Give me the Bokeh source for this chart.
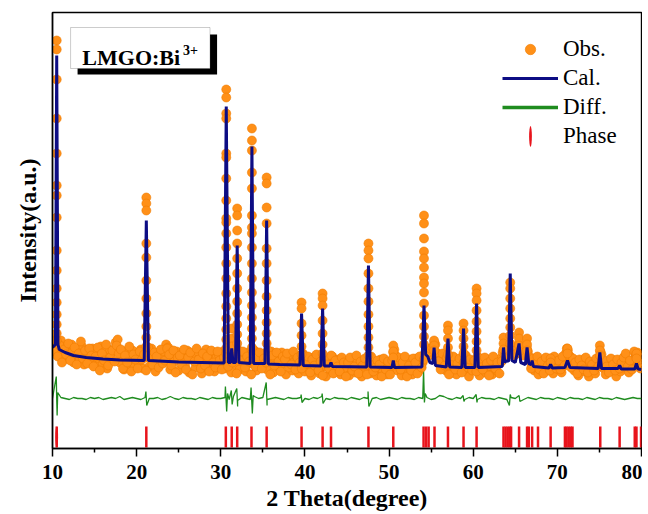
import numpy as np
from bokeh.plotting import figure
from bokeh.models import Range1d, FixedTicker, Legend, LegendItem, BoxAnnotation, Label
from bokeh.embed import file_html
from bokeh.resources import INLINE

# ---------------- data (2theta in degrees, intensity in a.u.) ----------------
# observed background scan, 2theta = 10.00 ... 80.00 step 0.25
obs_step = 0.25
obs_bg_int = [
    106, 102, 98, 94, 108, 88, 101, 95, 90, 104, 86, 99, 93, 89, 102, 84, 97, 91, 87, 100,
    83, 96, 90, 102, 85, 94, 80, 99, 88, 97, 106, 109, 86, 92, 79, 97, 84, 90, 98, 81,
    93, 85, 99, 80, 91, 96, 82, 100, 88, 77, 94, 86, 90, 97, 104, 101, 79, 92, 87, 97,
    78, 90, 95, 83, 98, 76, 89, 93, 81, 97, 86, 75, 92, 99, 84, 88, 96, 77, 91, 94,
    86, 97, 80, 93, 88, 76, 95, 84, 99, 79, 90, 94, 77, 96, 85, 89, 98, 78, 92, 87,
    83, 95, 79, 91, 97, 76, 88, 93, 80, 96, 85, 74, 90, 94, 78, 87, 92, 75, 89, 95,
    77, 88, 84, 73, 91, 80, 86, 75, 90, 82, 72, 87, 79, 92, 76, 85, 89, 74, 83, 88,
    79, 73, 90, 84, 76, 88, 81, 72, 86, 78, 91, 75, 83, 87, 73, 80, 89, 77, 84, 74,
    86, 79, 96, 93, 78, 85, 73, 88, 81, 76, 89, 74, 84, 90, 77, 82, 86, 95, 99, 93,
    97, 100, 104, 90, 84, 92, 88, 78, 86, 75, 83, 89, 74, 87, 80, 91, 77, 84, 72, 88,
    79, 85, 92, 73, 86, 80, 76, 89, 82, 74, 87, 78, 84, 90, 96, 93, 100, 98, 95, 97,
    99, 96, 102, 98, 100, 94, 97, 88, 83, 78, 86, 74, 81, 88, 77, 85, 90, 79, 75, 84,
    80, 86, 76, 89, 95, 98, 92, 84, 78, 87, 73, 82, 88, 77, 85, 72, 81, 86, 75, 83,
    90, 94, 80, 74, 86, 79, 83, 88, 72, 85, 77, 81, 92, 89, 76, 84, 88, 95, 96, 91,
    82,
]
# observed background scan, interleaved points 2theta = 10.125 ... 79.875 step 0.25
obs_bg2_int = [
    97, 110, 92, 103, 86, 99, 94, 105, 88, 96, 101, 84, 95, 107, 90, 98, 85, 100, 93, 82,
    92, 101, 78, 95, 88, 104, 83, 91, 98, 87, 103, 95, 99, 80, 93, 86, 102, 77, 94, 89,
    80, 97, 89, 94, 78, 101, 90, 84, 96, 92, 81, 99, 85, 88, 100, 94, 83, 98, 76, 91,
    93, 84, 99, 79, 91, 96, 74, 87, 100, 89, 80, 95, 83, 92, 77, 98, 86, 81, 97, 88,
    79, 91, 95, 82, 99, 86, 90, 75, 93, 88, 97, 81, 92, 87, 74, 95, 82, 90, 96, 80,
    90, 86, 98, 74, 93, 83, 96, 87, 77, 92, 89, 95, 81, 84, 97, 79, 91, 86, 80, 93,
    85, 92, 76, 89, 83, 94, 78, 87, 73, 91, 84, 80, 93, 75, 88, 82, 77, 91, 86, 72,
    86, 91, 78, 82, 93, 75, 87, 83, 90, 74, 85, 92, 77, 81, 88, 84, 72, 90, 79, 87,
    74, 88, 99, 84, 91, 79, 86, 92, 72, 83, 78, 90, 86, 75, 92, 81, 89, 98, 96, 100,
    101, 106, 96, 87, 79, 95, 83, 91, 74, 88, 92, 79, 85, 90, 76, 86, 93, 81, 89, 78,
    88, 77, 83, 90, 79, 91, 85, 73, 88, 92, 80, 86, 75, 87, 99, 102, 94, 97, 101, 93,
    95, 104, 99, 93, 103, 101, 92, 80, 90, 85, 92, 79, 87, 75, 91, 83, 78, 87, 92, 80,
    88, 79, 92, 83, 100, 93, 81, 90, 86, 75, 89, 83, 79, 91, 76, 87, 84, 78, 90, 82,
    97, 85, 88, 82, 76, 90, 84, 78, 89, 80, 86, 91, 95, 82, 88, 79, 97, 93, 86, 80,
]

# observed points on the Bragg peaks (columns of points at each reflection)
obs_peak_pos = [10.5, 21.15, 30.65, 31.3, 31.95, 33.7, 35.45, 39.6, 42.1, 47.55,
                50.5, 54.15, 55.35, 57.0, 58.85, 60.4, 63.6, 64.4, 65.45, 66.4,
                69.2, 71.2, 75.05, 79.4]
obs_peak_cols = [
    [408, 399, 369, 330, 295, 263, 253, 231, 198, 178, 160, 146, 134, 124, 115, 108],
    [251, 245, 238, 205, 191, 168, 150, 135, 122, 111, 102],
    [359, 351, 335, 330, 295, 291, 270, 248, 230, 226, 215, 201, 185, 170, 155, 142, 130, 119, 109, 100],
    [120, 110, 102],
    [240, 233, 218, 205, 190, 175, 160, 147, 135, 124, 114, 105],
    [320, 308, 298, 276, 260, 233, 221, 215, 201, 185, 170, 156, 143, 131, 120, 110, 101],
    [271, 265, 241, 225, 200, 185, 168, 152, 138, 126, 115, 105],
    [146, 140, 125, 113, 102, 94],
    [155, 150, 143, 128, 115, 104, 95],
    [205, 198, 190, 175, 160, 147, 134, 122, 111, 101, 93],
    [103, 97, 91],
    [233, 225, 210, 197, 190, 181, 171, 165, 156, 145, 133, 122, 112, 104],
    [108, 103, 98],
    [123, 118, 110, 101, 94],
    [125, 118, 110, 102, 95],
    [160, 155, 148, 138, 127, 117, 107, 98],
    [111, 105, 99],
    [166, 160, 150, 140, 130, 121, 113, 105],
    [116, 110, 103, 97],
    [110, 104, 98],
    [90, 86],
    [100, 95],
    [103, 98, 93],
    [95, 90],
]

# calculated profile
cal_tth = [10.0, 10.35, 10.5, 10.65, 10.8, 11.5, 12.5, 14.0, 16.0, 18.0, 20.9, 21.15, 21.4,
           25.0, 30.4, 30.65, 30.9, 31.15, 31.3, 31.45, 31.75, 31.95, 32.15, 33.5, 33.7,
           33.9, 35.25, 35.45, 35.65, 37.0, 39.4, 39.6, 39.8, 41.9, 42.1, 42.3, 42.95,
           43.1, 43.25, 47.35, 47.55, 47.75, 50.35, 50.5, 50.65, 53.9, 54.15, 54.35, 54.6,
           54.85, 55.2, 55.35, 55.5, 56.8, 57.0, 57.2, 58.65, 58.85, 59.05, 60.2, 60.4,
           60.6, 63.45, 63.6, 63.75, 63.95, 64.2, 64.4, 64.6, 65.0, 65.45, 65.65, 66.2,
           66.4, 66.6, 66.9, 67.0, 67.15, 69.0, 69.2, 69.4, 70.9, 71.2, 71.5, 74.85,
           75.05, 75.25, 77.2, 77.4, 77.6, 79.2, 79.4, 79.6, 80.0]
cal_int = [101, 104, 393, 104, 99, 96, 93, 91, 89.5, 88.5, 88, 228, 88,
           86.5, 85.5, 342, 86, 86, 100, 86, 86, 203, 86, 85, 302,
           85, 85, 228, 84.5, 84, 83.5, 135, 83, 82.5, 140, 82.5, 82.5,
           86, 82, 81.5, 183, 81.5, 81, 88, 81, 81.5, 143, 94, 92,
           86, 85, 101, 83, 81.5, 110, 81.5, 81, 120, 81, 81, 145,
           81, 82, 101, 86, 88, 87, 175, 88, 86, 105, 86, 84,
           101, 85, 84, 88, 82, 80.5, 84, 80.5, 81, 88, 81, 80,
           96, 80, 80, 83, 79.5, 79.5, 85, 79.5, 79]

# difference curve (obs - cal, offset), background every 0.5 deg plus peak residuals
diff_step = 0.5
diff_bg_int = [
    50, 49, 51, 50, 49, 51, 50, 50, 49, 51, 50, 51, 49, 50, 51, 50, 52, 49, 50, 51,
    50, 49, 51, 50, 50, 51, 49, 50, 52, 50, 49, 51, 50, 50, 49, 51, 50, 49, 51, 50,
    50, 51, 49, 52, 48, 51, 50, 49, 52, 50, 51, 49, 50, 51, 50, 49, 51, 50, 50, 51,
    50, 49, 51, 50, 52, 50, 49, 51, 50, 50, 49, 51, 50, 49, 51, 50, 50, 51, 49, 50,
    51, 50, 49, 51, 50, 50, 49, 51, 50, 51, 49, 50, 53, 52, 50, 49, 51, 50, 49, 51,
    50, 49, 51, 50, 50, 49, 51, 50, 49, 51, 50, 50, 49, 51, 50, 49, 51, 50, 50, 49,
    51, 50, 49, 51, 50, 50, 49, 51, 50, 49, 51, 50, 50, 49, 51, 50, 49, 50, 51, 50,
    50,
]
diff_pk_tth = [10.45, 10.55, 10.62, 21.1, 21.2, 30.55, 30.7, 30.8, 31.25, 31.35, 31.9, 32.0,
               33.6, 33.75, 33.85, 35.4, 35.5, 39.55, 39.65, 42.05, 42.15, 47.5, 47.6,
               54.1, 54.2, 54.3, 58.8, 58.9, 60.35, 60.45, 64.3, 64.4, 65.45, 65.55]
diff_pk_int = [72, 33, 56, 57, 43, 62, 37, 55, 58, 44, 60, 42,
               61, 35, 53, 66, 43, 54, 46, 55, 45, 57, 42,
               78, 46, 55, 53, 47, 54, 46, 43, 54, 53, 47]

# Bragg reflection positions of the phase
phase_pos = [10.5, 21.15, 30.6, 31.3, 31.95, 33.65, 35.45, 39.6, 42.1, 43.1, 47.55, 50.5,
             54.1, 54.4, 54.7, 55.4, 57.0, 58.85, 60.4, 63.6, 63.85, 64.1, 64.35, 64.5,
             65.45, 66.4, 66.6, 67.0, 67.7, 69.2, 70.9, 71.1, 71.35, 71.6, 71.8, 75.1,
             77.4, 79.2, 79.4, 79.95]

x_ticks = [10, 20, 30, 40, 50, 60, 70, 80]
x_minor = [15, 25, 35, 45, 55, 65, 75]

# ---------------- build series ----------------
obs_x = [10.0 + i * obs_step for i in range(len(obs_bg_int))]
obs_y = list(obs_bg_int)
obs_x += [10.125 + i * obs_step for i in range(len(obs_bg2_int))]
obs_y += obs_bg2_int
for pos, col in zip(obs_peak_pos, obs_peak_cols):
    obs_x += [pos] * len(col)
    obs_y += col

diff_bg_tth = [10.0 + i * diff_step for i in range(len(diff_bg_int))]
pairs = sorted(zip(diff_bg_tth + diff_pk_tth, diff_bg_int + diff_pk_int))
diff_x = [a for a, b in pairs]
diff_y = [b for a, b in pairs]

ORANGE = "#ff9018"
NAVY = "#0d0d84"
GREEN = "#1f8c1f"
RED = "#e8141c"
SERIF = "Liberation Serif"

p = figure(width=642, height=514, output_backend="svg", toolbar_location=None, title=None,
           x_range=Range1d(10, 80), y_range=Range1d(0, 436),
           min_border_left=52, min_border_right=1, min_border_top=12, min_border_bottom=66)
p.background_fill_color = "white"
p.border_fill_color = "white"
p.outline_line_color = "black"
p.outline_line_width = 1.4
p.xgrid.visible = False
p.ygrid.visible = False

# phase ticks
phase_r = p.segment(x0=phase_pos, x1=phase_pos, y0=[1] * len(phase_pos), y1=[22] * len(phase_pos),
                    line_color=RED, line_width=2.5)
phase_leg = p.ellipse(x=[phase_pos[0]], y=[11.5], width=2.8, height=21,
                      width_units="screen", height_units="screen",
                      fill_color=RED, line_alpha=0)
# difference
diff_r = p.line(diff_x, diff_y, line_color=GREEN, line_width=1.3)
diff_leg = p.line([diff_x[0]], [diff_y[0]], line_color=GREEN, line_width=3.5)
# observed
obs_r = p.scatter(obs_x, obs_y, marker="circle", size=9, fill_color=ORANGE,
                  line_color="#f07c00", line_width=0.6)
# calculated
cal_r = p.line(cal_tth, cal_int, line_color=NAVY, line_width=3)

# axes
p.xaxis.ticker = FixedTicker(ticks=x_ticks, minor_ticks=x_minor)
p.xaxis.axis_label = "2 Theta(degree)"
p.yaxis.ticker = FixedTicker(ticks=[])
p.yaxis.axis_label = "Intensity(a.u.)"
for ax in (p.xaxis[0], p.yaxis[0]):
    ax.axis_line_width = 1.5
    ax.axis_line_color = "black"
    ax.major_tick_line_width = 1.5
    ax.minor_tick_line_width = 1.5
    ax.major_tick_in = 0
    ax.minor_tick_in = 0
    ax.axis_label_text_font = SERIF
    ax.axis_label_text_font_style = "bold"
    ax.axis_label_text_font_size = "24px"
    ax.axis_label_text_color = "black"
    ax.axis_label_text_line_height = 1.0
    ax.major_label_text_font = SERIF
    ax.major_label_text_font_style = "bold"
    ax.major_label_text_font_size = "21px"
    ax.major_label_text_color = "black"
    ax.major_label_text_line_height = 1.0
p.xaxis.major_tick_out = 8
p.xaxis.minor_tick_out = 4
p.xaxis.major_label_standoff = 8
p.xaxis.axis_label_standoff = 3
p.yaxis.major_tick_out = 0
p.yaxis.minor_tick_out = 0
p.yaxis.major_label_standoff = 0
p.yaxis.axis_label_standoff = 12

# legend
legend = Legend(items=[
    LegendItem(label="Obs.", renderers=[obs_r]),
    LegendItem(label="Cal.", renderers=[cal_r]),
    LegendItem(label="Diff.", renderers=[diff_leg]),
    LegendItem(label="Phase", renderers=[phase_leg]),
], location="top_right", glyph_width=56, glyph_height=26, label_height=26, label_width=54,
   spacing=3, padding=10, margin=14, label_standoff=5,
   label_text_font=SERIF, label_text_font_size="23px", label_text_color="black",
   border_line_alpha=0, background_fill_alpha=0)
p.add_layout(legend)

# sample label box with drop shadow
p.add_layout(BoxAnnotation(left=12.98, right=29.56, bottom=374, top=414,
                           fill_color="black", fill_alpha=1, line_alpha=0))
p.add_layout(BoxAnnotation(left=12.15, right=28.72, bottom=380, top=421,
                           fill_color="white", fill_alpha=1, line_color="#555555", line_width=1))
p.add_layout(Label(x=13.55, y=391, text="LMGO:Bi", text_font=SERIF, text_font_style="bold",
                   text_font_size="22px", text_color="black", text_baseline="alphabetic"))
p.add_layout(Label(x=25.5, y=399, text="3+", text_font=SERIF, text_font_style="bold",
                   text_font_size="14px", text_color="black", text_baseline="alphabetic"))

open("out.html", "w").write(file_html(p, INLINE))
